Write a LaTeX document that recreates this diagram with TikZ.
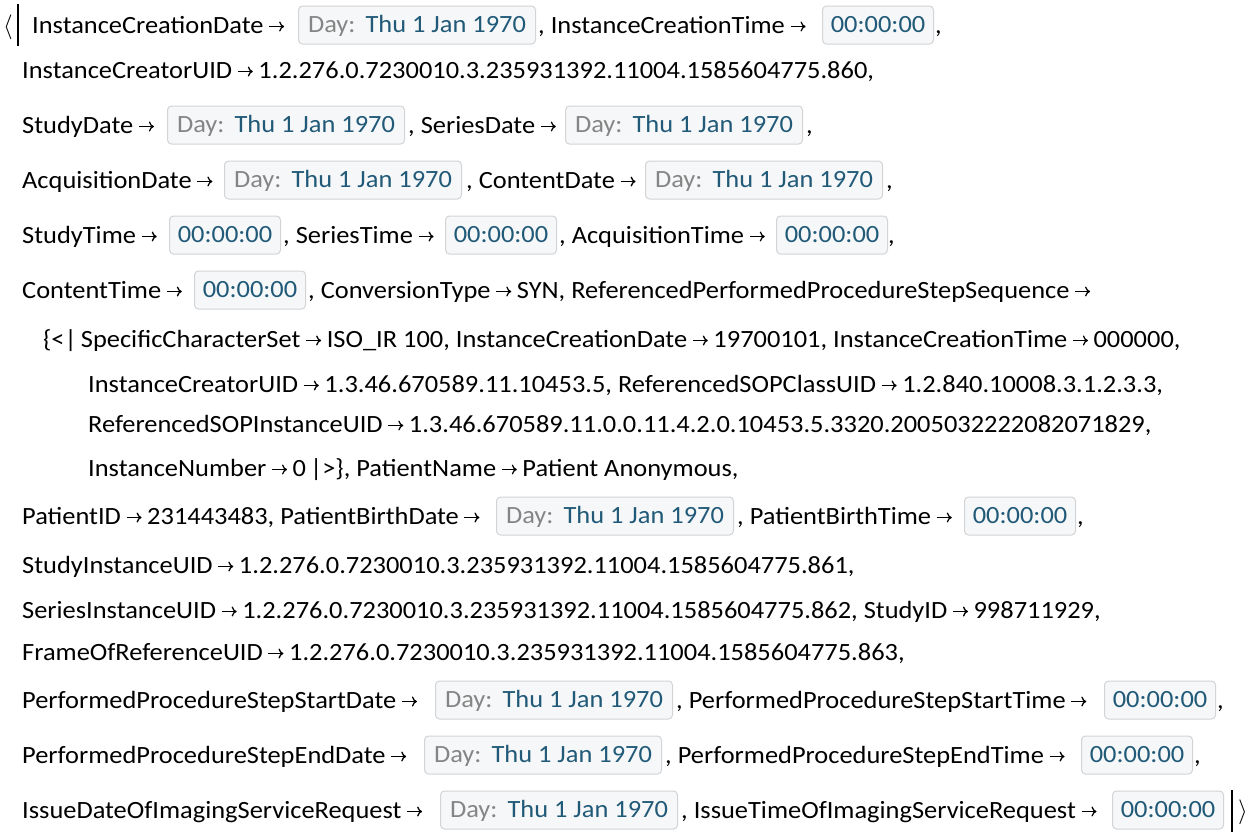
\documentclass[tikz,border=0pt]{standalone}
\usepackage{fontspec}
\setmainfont{Carlito}[FakeStretch=1.065]
\usetikzlibrary{arrows.meta}
\definecolor{chipfill}{HTML}{F6F7F8}
\definecolor{chipline}{HTML}{D2D4D6}
\definecolor{daygray}{HTML}{858585}
\definecolor{dayblue}{HTML}{215A78}
\newcommand{\mfont}{\fontsize{24.8}{28}\selectfont}
\newcommand{\ra}{\kern5pt\tikz[baseline=0pt,x=1pt,y=1pt]\draw[-{To[length=5pt,width=10pt]},line width=1.3pt] (0,6.5) -- (15,6.5);\kern5pt}
\newcommand{\dayval}{\textcolor{daygray}{Day:}\ \,\textcolor{dayblue}{Thu 1 Jan 1970}}
\newcommand{\timeval}{\textcolor{dayblue}{00:00:00}}
\tikzset{
  txt/.style={anchor=base west, inner sep=0pt, font=\mfont},
  datechip/.style={anchor=west, draw=chipline, line width=1pt, fill=chipfill, rounded corners=4pt, minimum width=237pt, minimum height=38pt, inner sep=0pt, text height=16pt, text depth=2pt, font=\mfont},
  timechip/.style={datechip, minimum width=111pt}
}
\begin{document}
\begin{tikzpicture}[x=1pt,y=-1pt]
\useasboundingbox[fill=white] (0,0) rectangle (1256,836);
% outer association brackets
\node[txt] (lbr) at (3,33) {$\langle$};
\draw[line width=1.4pt] (18,4) -- (18,46);
\draw[line width=1.4pt] (1232,790) -- (1232,832);
\node[txt] (rbr) at (1238,818) {$\rangle$};
% line 1
\node[txt] (t1a) at (32,33) {InstanceCreationDate\ra};
\node[datechip] (d1) at (298,25) {\dayval};
\node[txt] (t1b) at (538,33) {, InstanceCreationTime\ra};
\node[timechip] (h1) at (822,25) {\timeval};
\node[txt] (t1c) at (935,33) {,};
% line 2
\node[txt] (t2) at (22,78) {InstanceCreatorUID\ra 1.2.276.0.7230010.3.235931392.11004.1585604775.860,};
% line 3
\node[txt] (t3a) at (22,133) {StudyDate\ra};
\node[datechip] (d3a) at (167,125) {\dayval};
\node[txt] (t3b) at (408,133) {, SeriesDate\ra};
\node[datechip] (d3b) at (565,125) {\dayval};
\node[txt] (t3c) at (806,133) {,};
% line 4
\node[txt] (t4a) at (22,188) {AcquisitionDate\ra};
\node[datechip] (d4a) at (224,180) {\dayval};
\node[txt] (t4b) at (466,188) {, ContentDate\ra};
\node[datechip] (d4b) at (645,180) {\dayval};
\node[txt] (t4c) at (886,188) {,};
% line 5
\node[txt] (t5a) at (22,243) {StudyTime\ra};
\node[timechip] (h5a) at (169,235) {\timeval};
\node[txt] (t5b) at (283,243) {, SeriesTime\ra};
\node[timechip] (h5b) at (445,235) {\timeval};
\node[txt] (t5c) at (559,243) {, AcquisitionTime\ra};
\node[timechip] (h5c) at (776,235) {\timeval};
\node[txt] (t5d) at (888,243) {,};
% line 6
\node[txt] (t6a) at (22,298) {ContentTime\ra};
\node[timechip] (h6) at (194,290) {\timeval};
\node[txt] (t6b) at (308,298) {, ConversionType\ra SYN, ReferencedPerformedProcedureStepSequence\ra};
% nested sequence
\node[txt] (t7) at (43,347) {\{<|\,SpecificCharacterSet\ra ISO\_IR 100, InstanceCreationDate\ra 19700101, InstanceCreationTime\ra 000000,};
\node[txt] (t8) at (88,392) {InstanceCreatorUID\ra 1.3.46.670589.11.10453.5, ReferencedSOPClassUID\ra 1.2.840.10008.3.1.2.3.3,};
\node[txt] (t9) at (88,432) {ReferencedSOPInstanceUID\ra 1.3.46.670589.11.0.0.11.4.2.0.10453.5.3320.2005032222082071829,};
\node[txt] (t10) at (88,476) {InstanceNumber\ra 0\,|>\}, PatientName\ra Patient Anonymous,};
% line 11
\node[txt] (t11a) at (22,524) {PatientID\ra 231443483, PatientBirthDate\ra};
\node[datechip] (d11) at (496,516) {\dayval};
\node[txt] (t11b) at (737,524) {, PatientBirthTime\ra};
\node[timechip] (h11) at (964,516) {\timeval};
\node[txt] (t11c) at (1077,524) {,};
% uid lines
\node[txt] (t12) at (22,573) {StudyInstanceUID\ra 1.2.276.0.7230010.3.235931392.11004.1585604775.861,};
\node[txt] (t13) at (22,618) {SeriesInstanceUID\ra 1.2.276.0.7230010.3.235931392.11004.1585604775.862, StudyID\ra 998711929,};
\node[txt] (t14) at (22,660) {FrameOfReferenceUID\ra 1.2.276.0.7230010.3.235931392.11004.1585604775.863,};
% line 15
\node[txt] (t15a) at (22,708) {PerformedProcedureStepStartDate\ra};
\node[datechip] (d15) at (435,700) {\dayval};
\node[txt] (t15b) at (676,708) {, PerformedProcedureStepStartTime\ra};
\node[timechip] (h15) at (1104,700) {\timeval};
\node[txt] (t15c) at (1217,708) {,};
% line 16
\node[txt] (t16a) at (22,763) {PerformedProcedureStepEndDate\ra};
\node[datechip] (d16) at (424,755) {\dayval};
\node[txt] (t16b) at (665,763) {, PerformedProcedureStepEndTime\ra};
\node[timechip] (h16) at (1081,755) {\timeval};
\node[txt] (t16c) at (1194,763) {,};
% line 17
\node[txt] (t17a) at (22,818) {IssueDateOfImagingServiceRequest\ra};
\node[datechip] (d17) at (440,810) {\dayval};
\node[txt] (t17b) at (681,818) {, IssueTimeOfImagingServiceRequest\ra};
\node[timechip] (h17) at (1112,810) {\timeval};
\end{tikzpicture}
\end{document}
